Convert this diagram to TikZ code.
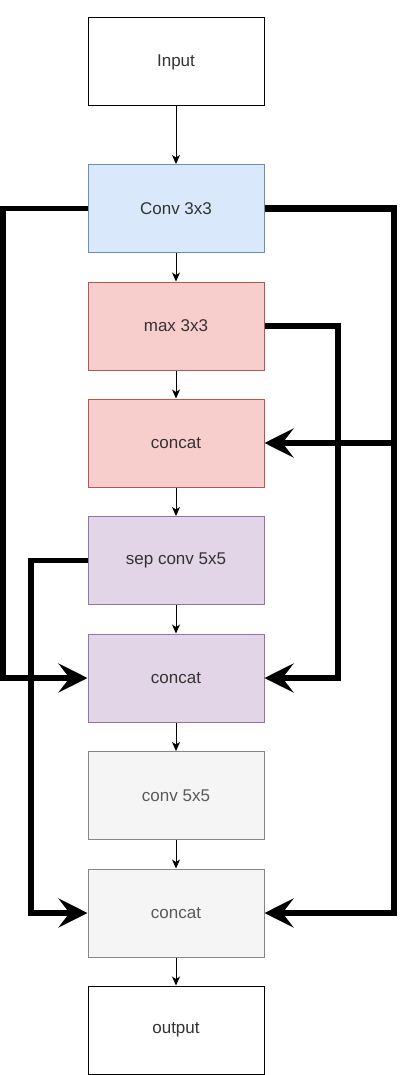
\documentclass[tikz,border=0pt]{standalone}
\usepackage{fontspec}
\setmainfont{Liberation Sans}
\usetikzlibrary{arrows.meta}
\definecolor{bluefill}{HTML}{DAE8FC}\definecolor{bluedraw}{HTML}{6C8EBF}
\definecolor{redfill}{HTML}{F8CECC}\definecolor{reddraw}{HTML}{B85450}
\definecolor{purfill}{HTML}{E1D5E7}\definecolor{purdraw}{HTML}{9673A6}
\definecolor{grayfill}{HTML}{F5F5F5}\definecolor{graydraw}{HTML}{666666}
\definecolor{txt}{HTML}{333333}\definecolor{graytxt}{HTML}{5A5A5A}
\begin{document}
\begin{tikzpicture}[x=1pt,y=-1pt,
  box/.style={draw, line width=1pt, minimum width=176pt, minimum height=88pt, inner sep=0pt,
    font=\fontsize{17}{20}\selectfont, text=txt},
  plainbox/.style={box, draw=black, fill=white},
  bluebox/.style={box, draw=bluedraw, fill=bluefill},
  redbox/.style={box, draw=reddraw, fill=redfill},
  purbox/.style={box, draw=purdraw, fill=purfill},
  graybox/.style={box, draw=graydraw!80, fill=grayfill, text=graytxt},
  thin arrow/.style={line width=1pt, -{Stealth[length=9pt,width=8pt,inset=2.5pt]}},
  skip arrow/.style={line width=5.5pt, -{Stealth[length=29pt,width=29pt,inset=11pt]}}]
\useasboundingbox (0,0) rectangle (400,1075);
\node[plainbox] (in)   at (176,62)    {Input};
\node[bluebox]  (conv) at (176,208.5) {Conv 3x3};
\node[redbox]   (max)  at (176,326)   {max 3x3};
\node[redbox]   (cc1)  at (176,443)   {concat};
\node[purbox]   (sep)  at (176,560.5) {sep conv 5x5};
\node[purbox]   (cc2)  at (176,678)   {concat};
\node[graybox]  (c5)   at (176,795.5) {conv 5x5};
\node[graybox]  (cc3)  at (176,913)   {concat};
\node[plainbox] (out)  at (176,1030)  {output};
\draw[thin arrow] (in) -- (conv);
\draw[thin arrow] (conv) -- (max);
\draw[thin arrow] (max) -- (cc1);
\draw[thin arrow] (cc1) -- (sep);
\draw[thin arrow] (sep) -- (cc2);
\draw[thin arrow] (cc2) -- (c5);
\draw[thin arrow] (c5) -- (cc3);
\draw[thin arrow] (cc3) -- (out);
\coordinate (l1) at (3,208.5);
\coordinate (r1) at (394,208.5);
\coordinate (m1) at (338,326);
\coordinate (s1) at (31,560.5);
\draw[skip arrow] (conv.west) -- (l1) |- (cc2.west);
\draw[skip arrow, line width=6.5pt] (conv.east) -- (r1) |- (cc1.east);
\draw[skip arrow, line width=6.5pt] (conv.east) -- (r1) |- (cc3.east);
\draw[skip arrow] (max.east) -- (m1) |- (cc2.east);
\draw[skip arrow] (sep.west) -- (s1) |- (cc3.west);
\end{tikzpicture}
\end{document}
